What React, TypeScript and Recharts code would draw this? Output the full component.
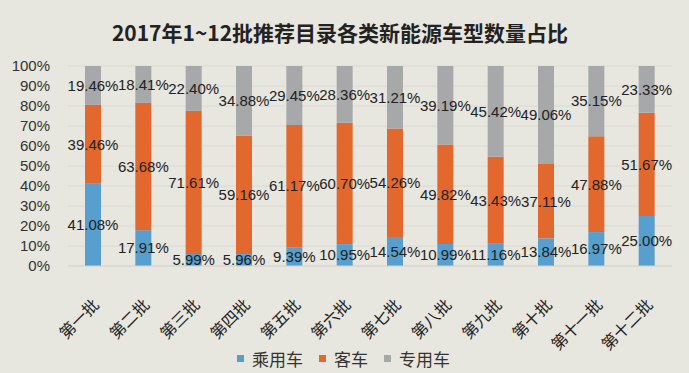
import React from "react";
import { BarChart, Bar, XAxis, YAxis, CartesianGrid, Legend, LabelList } from "recharts";

const categories = ["第一批", "第二批", "第三批", "第四批", "第五批", "第六批", "第七批", "第八批", "第九批", "第十批", "第十一批", "第十二批"];
const passenger = [41.08, 17.91, 5.99, 5.96, 9.39, 10.95, 14.54, 10.99, 11.16, 13.84, 16.97, 25.0];
const bus = [39.46, 63.68, 71.61, 59.16, 61.17, 60.7, 54.26, 49.82, 43.43, 37.11, 47.88, 51.67];
const special = [19.46, 18.41, 22.4, 34.88, 29.45, 28.36, 31.21, 39.19, 45.42, 49.06, 35.15, 23.33];
const yTicks = [0, 10, 20, 30, 40, 50, 60, 70, 80, 90, 100];
const seriesNames = ["乘用车", "客车", "专用车"];
const title = "2017年1~12批推荐目录各类新能源车型数量占比";

const data = categories.map((c, i) => ({
  name: c,
  passenger: passenger[i],
  bus: bus[i],
  special: special[i],
}));

const COLORS = ["#569FCF", "#E2682D", "#A6A8AA"];
const BG = "#E7E6DF";
const labelFont = "'Liberation Sans', Arial, sans-serif";
const cjkFont = "'Noto Sans CJK SC', sans-serif";

const XTick = (props: any) => {
  const { x, y, payload } = props;
  return (
    <g transform={`translate(${x + 7},${y + 32})`}>
      <text
        x={0}
        y={0}
        textAnchor="end"
        transform="rotate(-45)"
        fontSize={16}
        fontFamily={cjkFont}
        fill="#222"
      >
        {payload.value}
      </text>
    </g>
  );
};

const LegendContent = () => (
  <div style={{ display: "flex", alignItems: "center", fontFamily: cjkFont, fontSize: 17, color: "#333", height: 30 }}>
    {seriesNames.map((n, i) => (
      <div key={n} style={{ display: "flex", alignItems: "center", marginRight: 16 }}>
        <span style={{ display: "inline-block", width: 7, height: 7, background: COLORS[i], marginRight: 8 }} />
        <span>{n}</span>
      </div>
    ))}
  </div>
);

const fmt = (v: any) => `${Number(v).toFixed(2)}%`;

export default function App() {
  return (
    <div style={{ position: "absolute", left: 0, top: 0, width: 689, height: 373, background: BG }}>
      <div
        style={{
          position: "absolute",
          left: 0,
          top: 17,
          width: 680,
          textAlign: "center",
          fontFamily: cjkFont,
          fontWeight: 700,
          fontSize: 21,
          lineHeight: "30px",
          color: "#222",
        }}
      >
        {title}
      </div>
      <BarChart
        width={689}
        height={373}
        data={data}
        margin={{ top: 66, right: 17, left: 0, bottom: 0 }}
        barSize={16}
      >
        <CartesianGrid vertical={false} stroke="#DADAD2" />
        <XAxis
          dataKey="name"
          interval={0}
          height={77}
          tick={<XTick />}
          tickLine={false}
          axisLine={{ stroke: "#D5D5CD" }}
        />
        <YAxis
          type="number"
          domain={[0, 100]}
          ticks={yTicks}
          interval={0}
          allowDataOverflow
          width={68}
          tickFormatter={(v: number) => `${v}%`}
          tickLine={false}
          axisLine={false}
          tickSize={0}
          tickMargin={18}
          tick={{ fontSize: 15, fill: "#333", fontFamily: labelFont }}
        />
        <Legend
          verticalAlign="bottom"
          height={30}
          content={<LegendContent />}
          wrapperStyle={{ left: 237, width: 280 }}
        />
        <Bar dataKey="passenger" name={seriesNames[0]} stackId="a" fill={COLORS[0]} isAnimationActive={false}>
          <LabelList dataKey="passenger" position="center" formatter={fmt} fill="#222" fontSize={15} fontFamily={labelFont} />
        </Bar>
        <Bar dataKey="bus" name={seriesNames[1]} stackId="a" fill={COLORS[1]} isAnimationActive={false}>
          <LabelList dataKey="bus" position="center" formatter={fmt} fill="#222" fontSize={15} fontFamily={labelFont} />
        </Bar>
        <Bar dataKey="special" name={seriesNames[2]} stackId="a" fill={COLORS[2]} isAnimationActive={false}>
          <LabelList dataKey="special" position="center" formatter={fmt} fill="#222" fontSize={15} fontFamily={labelFont} />
        </Bar>
      </BarChart>
    </div>
  );
}
